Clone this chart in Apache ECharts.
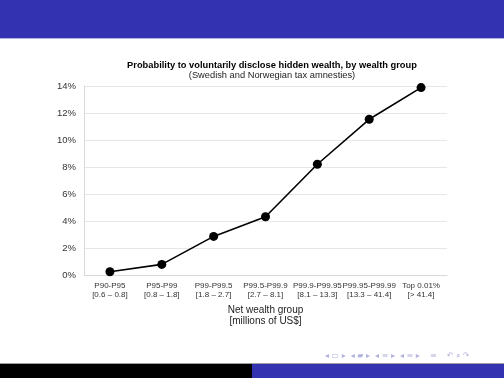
<!DOCTYPE html>
<html>
<head>
<meta charset="utf-8">
<script src="https://cdn.jsdelivr.net/npm/echarts@6/dist/echarts.min.js"></script>
<style>
  html, body { margin: 0; padding: 0; background: #fff; }
  #chart { width: 504px; height: 378px; }
</style>
</head>
<body>
<div id="chart"></div>
<script>
const groups = ['P90-P95', 'P95-P99', 'P99-P99.5', 'P99.5-P99.9', 'P99.9-P99.95', 'P99.95-P99.99', 'Top 0.01%']
const ranges = ['[0.6 – 0.8]', '[0.8 – 1.8]', '[1.8 – 2.7]', '[2.7 – 8.1]', '[8.1 – 13.3]', '[13.3 – 41.4]', '[> 41.4]']
const disclose = [0.28, 0.82, 2.89, 4.34, 8.22, 11.54, 13.88]
const yTicks = [0, 2, 4, 6, 8, 10, 12, 14]

const font = 'Liberation Sans, Arial, sans-serif'
const chart = echarts.init(document.getElementById('chart'))

const option = {
  animation: false,
  backgroundColor: '#fff',
  title: {
    text: 'Probability to voluntarily disclose hidden wealth, by wealth group',
    subtext: '(Swedish and Norwegian tax amnesties)',
    left: 267,
    textAlign: 'center',
    top: 56,
    itemGap: 1,
    textStyle: { fontFamily: font, fontSize: 9.3, fontWeight: 'bold', color: '#000' },
    subtextStyle: { fontFamily: font, fontSize: 9.3, color: '#222' }
  },
  grid: { left: 84, right: 57, top: 86, bottom: 102.5 },
  xAxis: {
    type: 'category',
    data: groups.map((g, i) => g + '\n' + ranges[i]),
    boundaryGap: true,
    name: 'Net wealth group\n[millions of US$]',
    nameLocation: 'middle',
    nameGap: 23,
    nameTextStyle: { fontFamily: font, fontSize: 10, color: '#222', lineHeight: 11 },
    axisLine: { lineStyle: { color: '#d9d9d9' } },
    axisTick: { length: 4, lineStyle: { color: '#d9d9d9' } },
    axisLabel: { fontFamily: font, fontSize: 8, color: '#333', lineHeight: 9, margin: 6, interval: 0 }
  },
  yAxis: {
    type: 'value',
    min: 0,
    max: yTicks[yTicks.length - 1],
    interval: 2,
    axisLine: { show: true, lineStyle: { color: '#d9d9d9' } },
    axisTick: { show: false },
    splitLine: { lineStyle: { color: '#e6e6e6' } },
    axisLabel: { fontFamily: font, fontSize: 9.5, color: '#333', margin: 8, formatter: '{value}%' }
  },
  series: [{
    type: 'line',
    data: disclose,
    symbol: 'circle',
    symbolSize: 9,
    itemStyle: { color: '#000' },
    lineStyle: { color: '#000', width: 1.6 }
  }],
  graphic: [
    { type: 'rect', shape: { x: 0, y: 0, width: 504, height: 38 }, style: { fill: '#3333b2' } },
    { type: 'rect', shape: { x: 0, y: 38, width: 504, height: 1 }, style: { fill: '#b4b4e0' } },
    { type: 'rect', shape: { x: 0, y: 363, width: 504, height: 1 }, style: { fill: '#a0a0a0' } },
    { type: 'rect', shape: { x: 0, y: 364, width: 252, height: 14 }, style: { fill: '#000' } },
    { type: 'rect', shape: { x: 252, y: 364, width: 252, height: 14 }, style: { fill: '#3333b2' } },
    {
      type: 'text', left: 325, top: 352,
      style: { text: '◂ ▭ ▸  ◂ ▰ ▸  ◂ ≡ ▸  ◂ ≡ ▸    ≡    ↶ ⌕ ↷', fill: '#b0b0dc', font: '8px DejaVu Sans' }
    }
  ]
}

chart.setOption(option)
</script>
</body>
</html>
